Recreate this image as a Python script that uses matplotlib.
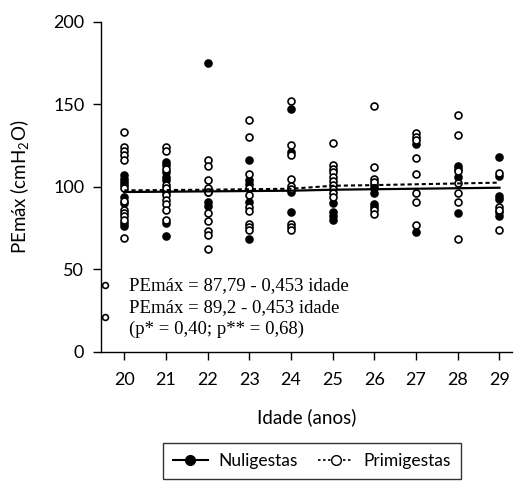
import matplotlib
matplotlib.use("Agg")
import matplotlib.pyplot as plt
from matplotlib.lines import Line2D

# ---------------- data ----------------
ages = [20, 21, 22, 23, 24, 25, 26, 27, 28, 29]
x_ticks = ages
y_ticks = [0, 50, 100, 150, 200]

# Nuligestas (filled circles), values per age
nuligestas = [
    [107, 105, 103, 101, 93.5, 90, 78, 76],          # 20
    [115, 113, 109, 106, 104, 97, 78, 70],           # 21
    [175, 97, 91, 88.5],                             # 22
    [116, 104, 101.5, 91, 68],                       # 23
    [147, 121, 97, 84.5],                            # 24
    [90, 84.5, 82, 80],                              # 25
    [101, 99, 96.5, 89.5, 87.5],                     # 26
    [126, 72.5],                                     # 27
    [112.5, 111, 106, 84],                           # 28
    [118, 106.5, 94.5, 92.5, 84.5, 82.5],            # 29
]
# Primigestas (open circles), values per age
primigestas = [
    [133, 124, 121.5, 119, 116, 99, 91.5, 86, 84, 82, 80, 69],   # 20
    [124, 122, 111, 101, 99, 95, 92, 89.5, 86, 80],              # 21
    [116, 112.5, 104, 99.5, 97, 84, 79, 73, 71, 62],             # 22
    [140.5, 130.5, 108, 99, 95, 88, 85, 77.5, 75.5, 73.5],       # 23
    [152, 125.5, 119.5, 104.5, 100.5, 98.5, 77.5, 75.5, 73.5],   # 24
    [126.5, 113, 111, 109, 106, 103.5, 101, 98.5, 96, 93.5],     # 25
    [149, 112, 105, 103, 86, 83.5],                              # 26
    [132.5, 130.5, 128.5, 117.5, 108, 96, 91, 77],               # 27
    [143.5, 131.5, 109.5, 102.5, 96.5, 91, 68.5],                # 28
    [108.5, 87.5, 86, 74],                                       # 29
]
# fitted lines (values read at each age)
fit_nuligestas = [96.8, 97.0, 97.2, 97.4, 97.6, 98.2, 98.5, 98.8, 99.1, 99.4]
fit_primigestas = [97.8, 98.0, 98.2, 98.5, 98.8, 100.6, 101.0, 101.5, 102.0, 102.5]

series_labels = ["Nuligestas", "Primigestas"]
x_label = "Idade (anos)"
y_label = "PEmáx (cmH$_\\mathregular{2}$O)"
eq_line1 = "PEmáx = 87,79 - 0,453 idade"
eq_line2 = "PEmáx = 89,2 - 0,453 idade"
eq_line3 = "(p* = 0,40; p** = 0,68)"

# ---------------- figure ----------------
W, H = 521, 482
fig = plt.figure(figsize=(W / 100, H / 100), dpi=100)
sans = ["Lato", "DejaVu Sans"]
serif = ["Liberation Serif", "DejaVu Serif"]
plt.rcParams["font.family"] = sans

ax_l, ax_r, ax_t, ax_b = 101, 512, 22, 351.5
ax = fig.add_axes([ax_l / W, 1 - ax_b / H, (ax_r - ax_l) / W, (ax_b - ax_t) / H])

ms = 5.0
mew = 1.2
for age, vals in zip(ages, nuligestas):
    ax.plot([age] * len(vals), vals, linestyle="none", marker="o", ms=ms,
            mfc="black", mec="black", mew=mew, zorder=3)
for age, vals in zip(ages, primigestas):
    ax.plot([age] * len(vals), vals, linestyle="none", marker="o", ms=ms,
            mfc="white", mec="black", mew=mew, zorder=4)

ax.plot(ages, fit_nuligestas, color="black", lw=1.6, zorder=5)
ax.plot(ages, fit_primigestas, color="black", lw=1.5, linestyle=(0, (2.0, 1.4)), zorder=5)

ax.set_xlim(19.44, 29.3)
ax.set_ylim(0, 200)
ax.set_xticks(x_ticks)
ax.set_yticks(y_ticks)
for s in ["top", "right"]:
    ax.spines[s].set_visible(False)
for s in ["left", "bottom"]:
    ax.spines[s].set_linewidth(1.0)
ax.tick_params(axis="both", direction="out", length=6, width=1.0, labelsize=13, colors="black")
ax.tick_params(axis="x", pad=9)
ax.tick_params(axis="y", pad=6)
ax.set_xlabel(x_label, fontsize=13.5, labelpad=14)
ax.set_ylabel(y_label, fontsize=13.5, labelpad=15)

# equation annotations
def fx(px):
    return px / W

def fy(py):
    return 1 - py / H

eq_fs = 13.5
fig.text(fx(129), fy(286), eq_line1, family=serif, fontsize=eq_fs, va="center", ha="left")
fig.text(fx(129), fy(307.5), eq_line2, family=serif, fontsize=eq_fs, va="center", ha="left")
fig.text(fx(129), fy(329), eq_line3, family=serif, fontsize=eq_fs, va="center", ha="left")
for py in (285, 317):
    fig.add_artist(Line2D([fx(104.5)], [fy(py)], marker="o", ms=4.2, mfc="white",
                          mec="black", mew=1.2, linestyle="none"))

handles = [
    Line2D([], [], color="black", lw=1.5, marker="o", ms=7, mfc="black", mec="black"),
    Line2D([], [], color="black", lw=1.2, linestyle=(0, (1.5, 1.5)), marker="o", ms=7,
           mfc="white", mec="black", mew=1.0),
]
leg = fig.legend(handles, series_labels, loc="center", bbox_to_anchor=(fx(312), fy(461)),
                 ncol=2, frameon=True, fancybox=False, edgecolor="black", fontsize=12.5,
                 handlelength=2.0, columnspacing=1.2, borderpad=0.6, handletextpad=0.6)
leg.get_frame().set_linewidth(1.0)

fig.savefig("out.png", dpi=100)
